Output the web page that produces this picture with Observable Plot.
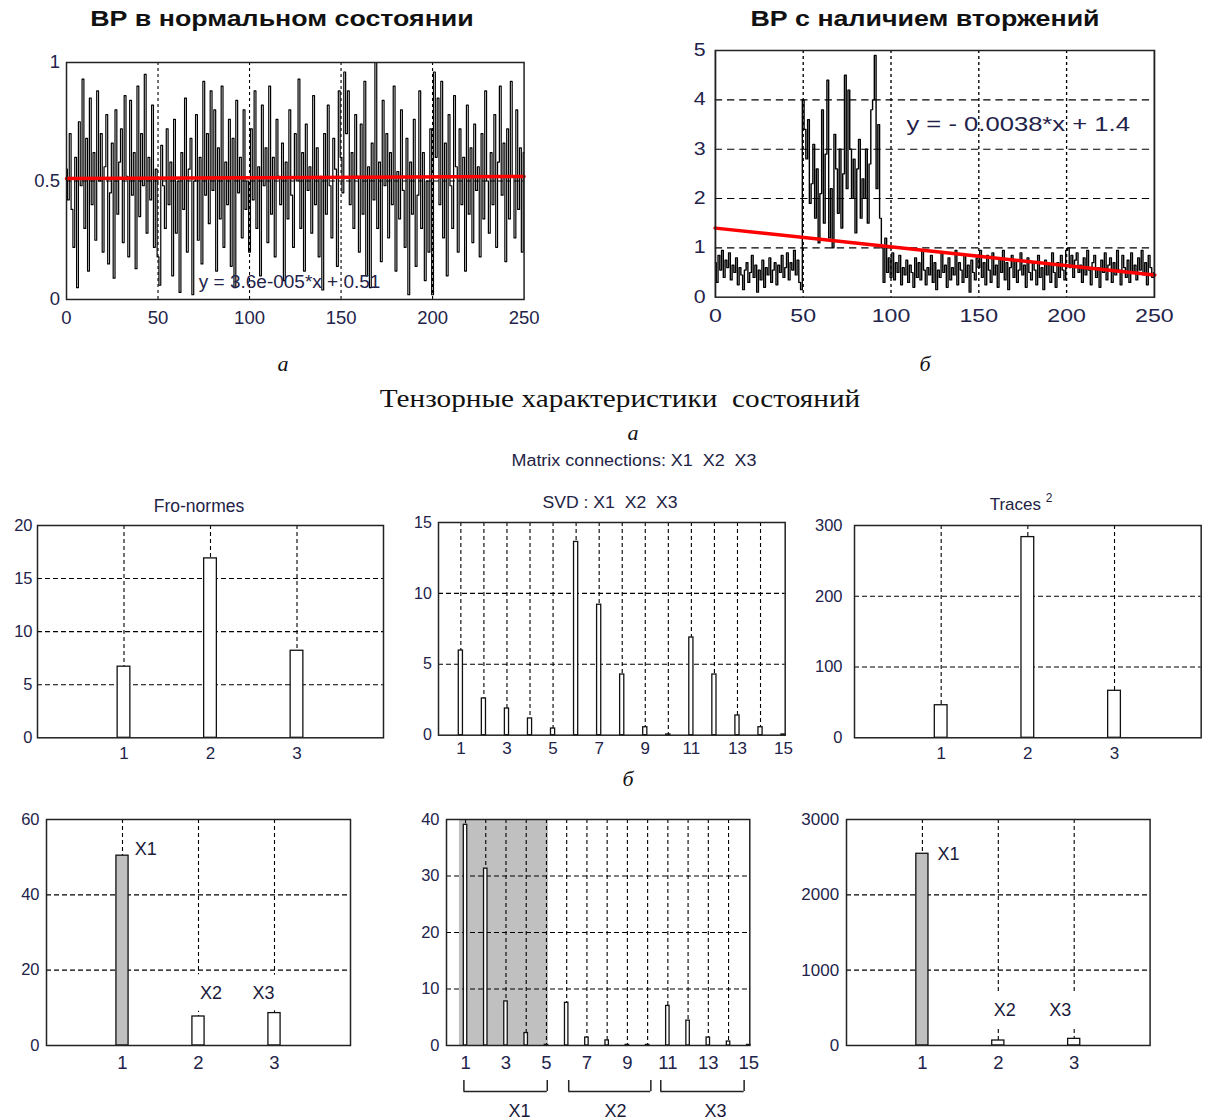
<!DOCTYPE html>
<html>
<head>
<meta charset="utf-8">
<script src="https://cdn.jsdelivr.net/npm/d3@7"></script>
<script src="https://cdn.jsdelivr.net/npm/@observablehq/plot@0.6"></script>
<style>
  body { margin: 0; background: #fff; }
  #root { position: relative; width: 1205px; height: 1120px; overflow: hidden; background: #fff;
          font-family: "Liberation Sans", Arial, sans-serif; }
  .t { position: absolute; white-space: pre; line-height: 1; color: #111; transform-origin: 50% 50%; }
</style>
</head>
<body>
<div id="root"></div>
<script>
// ---------------- DATA ----------------
// Time series "ВР в нормальном состоянии" (x = 0..250)
const seriesNormal = [
  .55,.42,.70,.38,.22,.60,.05,.75,.48,.93,
  .30,.68,.12,.85,.40,.62,.25,.88,.50,.70,
  .20,.56,.78,.15,.45,.66,.09,.80,.36,.58,
  .72,.24,.86,.52,.18,.84,.44,.62,.13,.90,
  .35,.70,.48,.95,.28,.60,.42,.82,.22,.55,
  .18,.06,.65,.48,.30,.72,.40,.58,.10,.76,
  .28,.50,.03,.62,.38,.85,.20,.55,.68,.02,
  .50,.78,.25,.60,.15,.92,.44,.70,.32,.88,
  .46,.80,.12,.64,.34,.90,.22,.58,.40,.76,
  .14,.68,.05,.84,.45,.60,.26,.80,.38,.50,
  .20,.72,.42,.88,.30,.56,.10,.82,.48,.64,
  .24,.90,.36,.60,.18,.76,.52,.40,.66,.08,
  .58,.34,.80,.44,.22,.70,.50,.93,.30,.62,
  .12,.74,.46,.56,.28,.86,.40,.64,.18,.52,
  .04,.70,.36,.82,.48,.26,.68,.55,.14,.88,
  .60,.45,.96,.70,.88,.40,.62,.30,.78,.52,
  .20,.74,.36,.92,.10,.56,.05,.66,.42,1.0,
  .30,.58,.16,.84,.48,.70,.26,.62,.40,.90,
  .12,.54,.34,.80,.46,.22,.68,.02,.58,.36,
  .76,.14,.44,.88,.30,.62,.08,.50,.20,.72,
  .02,.96,.60,.85,.40,.92,.26,.66,.10,.78,
  .48,.30,.86,.56,.20,.72,.40,.60,.12,.82,
  .36,.64,.24,.74,.46,.56,.18,.70,.34,.88,
  .50,.28,.62,.40,.78,.22,.58,.90,.44,.66,
  .16,.72,.34,.92,.52,.26,.80,.38,.64,.20,
  .62
];
// Time series "ВР с наличием вторжений" (x = 0..250)
const seriesAttack = [
  .70,.30,.85,.55,.95,.40,.75,.60,.90,.35,
  .65,.50,.80,.25,.60,.45,.15,.55,.70,.30,
  .50,.85,.40,.65,.10,.55,.35,.75,.20,.60,
  .45,.80,.30,.55,.70,.25,.65,.50,.85,.40,
  .60,.90,.35,.70,.55,.95,.45,.75,.30,.15,
  4.0,3.4,2.8,3.6,1.9,2.3,3.1,1.6,2.6,1.1,
  2.1,3.8,1.5,2.9,4.4,1.2,2.2,1.0,3.3,2.6,
  1.7,3.0,1.4,2.5,4.5,2.2,4.2,3.0,2.0,2.8,
  1.3,2.6,3.2,1.6,2.4,2.0,3.0,1.5,2.7,3.8,
  4.0,4.9,2.2,3.5,1.6,1.0,.30,1.2,.50,.80,
  .40,.90,.35,.70,.50,.85,.25,.60,.45,.75,
  .30,.65,.50,.20,.80,.40,.70,.35,.95,.55,
  .25,.60,.45,.85,.30,.70,.15,.55,.40,.90,
  .50,.65,.20,.80,.35,.60,.45,.95,.25,.70,
  .55,.30,.85,.40,.65,.10,.75,.50,.35,.80,
  .60,.95,.40,.70,.25,.85,.55,.30,.90,.45,
  .65,.20,.80,.50,.95,.35,.70,.15,.60,.85,
  .40,.75,.30,.55,.90,.45,.65,.20,.80,.50,
  .35,.70,.55,.25,.85,.40,.60,.15,.75,.45,
  .65,.30,.90,.50,.20,.70,.40,.85,.55,.35,
  .95,1.0,.60,.85,.40,.75,.90,.50,.65,.30,
  .80,.45,.95,.55,.25,.70,.85,.40,.60,.20,
  .75,.50,.90,.35,.65,.80,.30,.70,.45,.95,
  .55,.25,.85,.60,.40,.75,.30,.90,.50,.65,
  .35,.80,.55,.95,.45,.70,.25,.85,.60,.40,
  .50
];
const trendNormal = { slope: 3.6e-5, intercept: 0.51, text: "y = 3.6e-005*x + 0.51" };
const trendAttack = { slope: -0.0038, intercept: 1.4, text: "y = - 0.0038*x + 1.4" };
const timeTicks = [0, 50, 100, 150, 200, 250];
const normalYTicks = [0, 0.5, 1];
const attackYTicks = [0, 1, 2, 3, 4, 5];

// Tensor characteristics
const matrixIdx = [1, 2, 3];
const svdIdx = [1, 2, 3, 4, 5, 6, 7, 8, 9, 10, 11, 12, 13, 14, 15];
const svdTickLabels = [1, 3, 5, 7, 9, 11, 13, 15];
const groupNames = ["X1", "X2", "X3"];

// а) normal state
const froNormal = [6.7, 16.9, 8.2];
const svdNormal = [5.97, 2.59, 1.88, 1.18, 0.47, 13.63, 9.2, 4.28, 0.56, 0.05, 6.89, 4.28, 1.39, 0.56, 0.05];
const tracesNormal = [46, 283.6, 66.4];
// б) with intrusion
const froAttack = [50.4, 7.7, 8.6];
const svdAttack = [39.06, 31.3, 7.8, 2.2, 0.1, 7.55, 1.4, 0.9, 0.1, 0.1, 7.0, 4.4, 1.4, 0.7, 0.1];
const tracesAttack = [2545, 66, 88];

// ---------------- HELPERS ----------------
const root = document.getElementById("root");
const SANS = '"Liberation Sans", Arial, sans-serif';
const SERIF = '"Liberation Serif", "Times New Roman", serif';
const TICK = "#23234a";
const GRID = { stroke: "#000", strokeWidth: 1.1 };

function label(html, cx, baseline, size, o = {}) {
  const d = document.createElement("div");
  d.className = "t";
  d.innerHTML = html;
  d.style.fontSize = size + "px";
  d.style.fontFamily = o.serif ? SERIF : SANS;
  if (o.bold) d.style.fontWeight = "bold";
  if (o.italic) d.style.fontStyle = "italic";
  if (o.color) d.style.color = o.color;
  d.style.left = cx + "px";
  d.style.top = (baseline - (o.serif ? 0.8375 : 0.8465) * size) + "px";
  d.style.transform = `translateX(-50%) scaleX(${o.sx || 1})`;
  root.append(d);
}

function chart(o) {
  const [fl, ft, fr, fb] = o.frame;
  const [mt, mr, mb, ml] = o.margin;
  const sx = o.sx || 1;
  const width = (fr - fl) / sx + ml + mr;
  const height = (fb - ft) + mt + mb;
  const svg = Plot.plot({
    width, height,
    marginTop: mt, marginRight: mr, marginBottom: mb, marginLeft: ml,
    x: { domain: o.xDomain, ticks: o.xTicks, tickFormat: d => String(d), tickSize: 0, tickPadding: o.xPad, label: null },
    y: { domain: o.yDomain, ticks: o.yTicks, tickFormat: d => String(d), tickSize: 0, tickPadding: o.yPad, label: null },
    style: { fontFamily: SANS, fontSize: "16px", color: TICK, background: "transparent", overflow: "visible" },
    marks: [...o.marks, Plot.frame({ stroke: "#222", strokeWidth: 1.5 })]
  });
  svg.querySelectorAll('[aria-label^="x-axis"] text').forEach(t => { t.style.fontSize = o.xFont + "px"; });
  svg.querySelectorAll('[aria-label^="y-axis"] text').forEach(t => { t.style.fontSize = o.yFont + "px"; });
  svg.style.position = "absolute";
  svg.style.left = (fl - ml * sx) + "px";
  svg.style.top = (ft - mt) + "px";
  svg.style.maxWidth = "none";
  if (sx !== 1) { svg.style.transform = `scaleX(${sx})`; svg.style.transformOrigin = "0 0"; }
  root.append(svg);
  return svg;
}

function bars(values, idx, w, fillFn) {
  return Plot.rectY(values, {
    x1: (d, i) => idx[i] - w / 2,
    x2: (d, i) => idx[i] + w / 2,
    y: d => d,
    fill: fillFn || "#fff",
    stroke: "#111",
    strokeWidth: 1.3
  });
}
const firstGray = (d, i) => (i === 0 ? "#c0c0c0" : "#fff");

// ---------------- TEXT ----------------
label("ВР в нормальном состоянии", 282, 27.3, 22.5, { bold: true, sx: 1.19 });
label("ВР с наличием вторжений", 925, 27.3, 22.5, { bold: true, sx: 1.19 });
label("а", 283, 371, 22, { serif: true, italic: true });
label("б", 925, 371, 22, { serif: true, italic: true });
label("Тензорные характеристики  состояний", 620, 406.7, 25, { serif: true, sx: 1.17 });
label("а", 633, 440, 22, { serif: true, italic: true });
label("Matrix connections: X1  X2  X3", 634, 466.7, 16, { color: "#222244", sx: 1.12 });
label("Fro-normes", 199, 513.3, 17.5, { color: "#222244" });
label("SVD : X1  X2  X3", 610, 508.3, 16, { color: "#222244", sx: 1.1 });
label('Traces <span style="font-size:12px;position:relative;top:-8px">2</span>', 1021, 510.7, 17, { color: "#222244" });
label("б", 628, 786, 22, { serif: true, italic: true });

// ---------------- TOP ROW: time series ----------------
const linePt = (tr) => ({ x: d => d, y: d => tr.slope * d + tr.intercept });

chart({
  frame: [65.7, 62.3, 523.3, 299.3], margin: [12, 22, 36, 42],
  xDomain: [0, 250], xTicks: timeTicks, xPad: 11, xFont: 18.5,
  yDomain: [0, 1], yTicks: normalYTicks, yPad: 6.5, yFont: 18.5,
  marks: [
    Plot.ruleX([50, 100, 150, 200], { ...GRID, strokeDasharray: "3,3" }),
    Plot.ruleY([0.5], { ...GRID, strokeDasharray: "5,3" }),
    Plot.lineY(seriesNormal, { curve: "step", stroke: "#000", strokeWidth: 1.2 }),
    Plot.line([0, 250], { ...linePt(trendNormal), stroke: "#ff0000", strokeWidth: 3.5 }),
    Plot.text([trendNormal], { x: 72.3, y: 0.074, text: d => d.text, textAnchor: "start",
      fontSize: 19, fill: TICK, fontFamily: SANS })
  ]
});

chart({
  frame: [715, 50, 1154, 296.7], margin: [12, 22, 40, 40], sx: 1.22,
  xDomain: [0, 250], xTicks: timeTicks, xPad: 11.6, xFont: 19,
  yDomain: [0, 5], yTicks: attackYTicks, yPad: 8, yFont: 17.5,
  marks: [
    Plot.ruleX([50, 100, 150, 200], { ...GRID, strokeDasharray: "3,3" }),
    Plot.ruleY([1, 2, 3, 4], { ...GRID, strokeDasharray: "6,4" }),
    Plot.lineY(seriesAttack, { curve: "step", stroke: "#000", strokeWidth: 1.15 }),
    Plot.line([0, 250], { ...linePt(trendAttack), stroke: "#ff0000", strokeWidth: 3.5 }),
    Plot.text([trendAttack], { x: 108.8, y: 3.5, text: d => d.text, textAnchor: "start",
      fontSize: 21, fill: TICK, fontFamily: SANS })
  ]
});

// ---------------- MIDDLE ROW: а) normal ----------------
chart({
  frame: [37.3, 525, 383.3, 737.3], margin: [12, 8, 30, 36],
  xDomain: [0, 4], xTicks: matrixIdx, xPad: 9, xFont: 17,
  yDomain: [0, 20], yTicks: [0, 5, 10, 15, 20], yPad: 5, yFont: 16.5,
  marks: [
    Plot.ruleX(matrixIdx, { ...GRID, strokeDasharray: "4,3" }),
    Plot.ruleY([5, 10, 15], { ...GRID, strokeDasharray: "5,3" }),
    bars(froNormal, matrixIdx, 0.147)
  ]
});

chart({
  frame: [438.3, 522.3, 785, 735], margin: [12, 20, 30, 36],
  xDomain: [0.03, 15.07], xTicks: svdTickLabels, xPad: 6.7, xFont: 17,
  yDomain: [0, 15], yTicks: [0, 5, 10, 15], yPad: 6.6, yFont: 16,
  marks: [
    Plot.ruleX(svdIdx.slice(0, 14), { ...GRID, strokeDasharray: "4,3" }),
    Plot.ruleY([5, 10], { ...GRID, strokeDasharray: "5,3" }),
    bars(svdNormal, svdIdx, 0.18)
  ]
});

chart({
  frame: [854, 525, 1200.7, 737.3], margin: [12, 4, 30, 50],
  xDomain: [0, 4], xTicks: matrixIdx, xPad: 9, xFont: 17,
  yDomain: [0, 300], yTicks: [0, 100, 200, 300], yPad: 12, yFont: 16.5,
  marks: [
    Plot.ruleX(matrixIdx, { ...GRID, strokeDasharray: "4,3" }),
    Plot.ruleY([100, 200], { ...GRID, strokeDasharray: "5,3" }),
    bars(tracesNormal, matrixIdx, 0.147)
  ]
});

// ---------------- BOTTOM ROW: б) with intrusion ----------------
const tag = (names, xs, ys) => names.map((n, i) => ({ name: n, x: xs[i], y: ys[i] }));
const tagsFro = tag(groupNames, [1.16, 2.02, 2.71], [52, 13.9, 13.9]);
const tagsTr = tag(groupNames, [1.2, 1.94, 2.67], [2545, 465, 465]);

chart({
  frame: [46, 819, 350, 1045], margin: [12, 20, 40, 40],
  xDomain: [0, 4], xTicks: matrixIdx, xPad: 10, xFont: 18.5,
  yDomain: [0, 60], yTicks: [0, 20, 40, 60], yPad: 7, yFont: 16.5,
  marks: [
    Plot.ruleX(matrixIdx, { ...GRID, strokeDasharray: "4,3" }),
    Plot.ruleY([20, 40], { ...GRID, strokeDasharray: "5,3" }),
    Plot.text(tagsFro.slice(1), { x: "x", y: "y", text: "name", textAnchor: "start", fontSize: 18,
      fill: "#1a1a3a", stroke: "#fff", strokeWidth: 24 }),
    bars(froAttack, matrixIdx, 0.16, firstGray),
    Plot.text(tagsFro.slice(0, 1), { x: "x", y: "y", text: "name", textAnchor: "start", fontSize: 18, fill: "#1a1a3a" })
  ]
});

const svdGroups = [
  { name: "X1", from: 0.92, to: 5.04, lx: 3.67 },
  { name: "X2", from: 6.1, to: 10.16, lx: 8.41 },
  { name: "X3", from: 10.65, to: 14.77, lx: 13.35 }
];
const highlight = [{ from: 0.7, to: 5.1 }];

chart({
  frame: [446, 819, 749.3, 1045], margin: [12, 20, 75, 40],
  xDomain: [0.06, 15.05], xTicks: svdTickLabels, xPad: 10, xFont: 18.5,
  yDomain: [0, 40], yTicks: [0, 10, 20, 30, 40], yPad: 7, yFont: 16.5,
  marks: [
    Plot.rect(highlight, { x1: "from", x2: "to", y1: 0, y2: 40, fill: "#c0c0c0" }),
    Plot.ruleX(svdIdx.slice(0, 14), { ...GRID, strokeDasharray: "4,3" }),
    Plot.ruleY([10, 20, 30], { ...GRID, strokeDasharray: "5,3" }),
    bars(svdAttack, svdIdx, 0.17),
    Plot.ruleY(svdGroups, { x1: "from", x2: "to", y: -8.14, stroke: "#222", strokeWidth: 1.5 }),
    Plot.ruleX(svdGroups, { x: "from", y1: -8.14, y2: -6.19, stroke: "#222", strokeWidth: 1.5 }),
    Plot.ruleX(svdGroups, { x: "to", y1: -8.14, y2: -6.19, stroke: "#222", strokeWidth: 1.5 }),
    Plot.text(svdGroups, { x: "lx", y: -11.6, text: "name", fontSize: 18, fill: "#1a1a3a" })
  ]
});

chart({
  frame: [845.7, 819, 1149.3, 1045], margin: [12, 20, 40, 52],
  xDomain: [0, 4], xTicks: matrixIdx, xPad: 10, xFont: 18.5,
  yDomain: [0, 3000], yTicks: [0, 1000, 2000, 3000], yPad: 7.4, yFont: 17,
  marks: [
    Plot.ruleX(matrixIdx, { ...GRID, strokeDasharray: "4,3" }),
    Plot.ruleY([1000, 2000], { ...GRID, strokeDasharray: "5,3" }),
    Plot.text(tagsTr.slice(1), { x: "x", y: "y", text: "name", textAnchor: "start", fontSize: 18,
      fill: "#1a1a3a", stroke: "#fff", strokeWidth: 24 }),
    bars(tracesAttack, matrixIdx, 0.16, firstGray),
    Plot.text(tagsTr.slice(0, 1), { x: "x", y: "y", text: "name", textAnchor: "start", fontSize: 18, fill: "#1a1a3a" })
  ]
});
</script>
</body>
</html>
